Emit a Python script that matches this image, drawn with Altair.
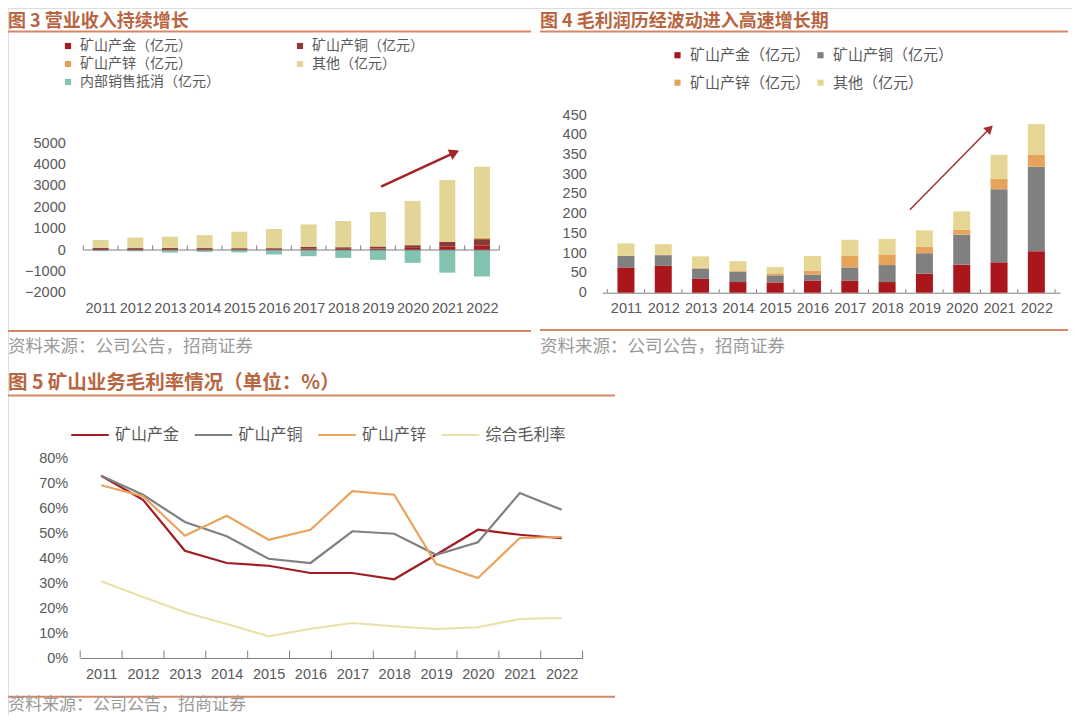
import altair as alt
import pandas as pd

# ---------------- data ----------------
years = list(range(2011, 2023))

# 图3 营业收入 (亿元)
rev_names = ["矿山产金（亿元）", "矿山产铜（亿元）", "矿山产锌（亿元）", "其他（亿元）", "内部销售抵消（亿元）"]
rev_gold = [50, 55, 50, 45, 40, 45, 60, 55, 70, 100, 160, 220]
rev_copper = [45, 45, 45, 45, 45, 40, 85, 75, 90, 125, 215, 290]
rev_zinc = [8, 10, 10, 12, 12, 12, 20, 20, 20, 20, 25, 60]
rev_other = [367, 470, 520, 598, 763, 888, 1035, 1210, 1600, 2055, 2880, 3330]
rev_elim = [-50, -60, -120, -90, -110, -210, -290, -370, -460, -600, -1060, -1240]
rev_colors = ["#A81C20", "#8C3A35", "#E2A25C", "#E2D595", "#84C2B1"]
rev_ticks = [-2000, -1000, 0, 1000, 2000, 3000, 4000, 5000]

# 图4 毛利润 (亿元)
gp_names = ["矿山产金（亿元）", "矿山产铜（亿元）", "矿山产锌（亿元）", "其他（亿元）"]
gp_gold = [64, 68, 35, 27, 26, 31, 31, 27, 48, 71, 77, 105]
gp_copper = [29, 27, 26, 26, 18, 15, 33, 43, 52, 76, 185, 214]
gp_zinc = [1, 1, 2, 2, 5, 10, 30, 27, 16, 12, 27, 31]
gp_other = [31, 27, 29, 25, 16, 37, 40, 39, 42, 47, 60, 77]
gp_colors = ["#AA161B", "#808080", "#E6A45A", "#E6D694"]
gp_ticks = [0, 50, 100, 150, 200, 250, 300, 350, 400, 450]

# 图5 毛利率 (%)
gm_names = ["矿山产金", "矿山产铜", "矿山产锌", "综合毛利率"]
gm_gold = [72.9, 63.3, 42.9, 38.0, 36.9, 34.0, 34.0, 31.5, 41.3, 51.3, 49.3, 47.9]
gm_copper = [72.9, 65.3, 54.4, 48.7, 39.7, 38.0, 50.7, 49.7, 41.3, 46.3, 66.0, 59.3]
gm_zinc = [69.1, 64.7, 48.9, 56.9, 47.3, 51.3, 66.7, 65.3, 37.7, 32.0, 48.0, 48.4]
gm_total = [30.7, 24.4, 18.3, 13.6, 8.7, 11.7, 14.0, 12.7, 11.6, 12.3, 15.6, 16.0]
gm_colors = ["#A11D22", "#808080", "#E9A35C", "#E9E1A8"]
gm_ticks = [0, 10, 20, 30, 40, 50, 60, 70, 80]

# arrow annotations (data units: year, value)
arrow3_start = (2019.09, 2970)
arrow3_end = (2021.21, 4565)
arrow4_start = (2018.61, 210)
arrow4_end = (2020.75, 416)

titles = ["图 3 营业收入持续增长", "图 4 毛利润历经波动进入高速增长期", "图 5 矿山业务毛利率情况（单位：%）"]
source = "资料来源：公司公告，招商证券"

# ---------------- helpers ----------------
W, H = 1064, 707
CJK = "Noto Sans CJK SC"
LAT = "Liberation Sans"
LBL = "#595959"
AXC = "#7F7F7F"
ACC = "#B9653F"
LINEC = "#D68866"
SRC = "#9A9A9A"

bounds = [y - 0.5 for y in years] + [years[-1] + 0.5]


def long_df(names, series, scale=1.0):
    rows = []
    for k, (n, vals) in enumerate(zip(names, series)):
        for y, v in zip(years, vals):
            rows.append({"year": y, "series": n, "value": v / scale, "ord": k})
    return pd.DataFrame(rows)


def xaxis(offset, domain=False):
    return alt.Axis(orient="bottom", offset=offset, values=years, format="d", ticks=False,
                    tickSize=0, domain=domain, domainColor=AXC, domainWidth=1, grid=False,
                    labelPadding=9, labelFont=LAT, labelFontSize=14.5, labelColor=LBL,
                    labelFlush=False, labelOverlap=False, title=None)


def yaxis(offset, values, fmt="d", pad=13):
    return alt.Axis(orient="left", offset=offset, values=values, format=fmt, ticks=False,
                    tickSize=0, domain=False, grid=False, labelPadding=pad, labelFont=LAT,
                    labelFontSize=14.5, labelColor=LBL, labelFlush=False, labelOverlap=False,
                    title=None)


def text_layer(txt, x, y, size, color, weight="normal", font=CJK):
    return alt.Chart(pd.DataFrame({"t": [txt]})).mark_text(
        align="left", baseline="middle", font=font, fontSize=size, fontWeight=weight, color=color
    ).encode(x=alt.value(x), y=alt.value(y), text="t:N")


def hline(x1, x2, y, color=LINEC, width=2):
    return alt.Chart(pd.DataFrame({"a": [0]})).mark_rule(color=color, strokeWidth=width).encode(
        x=alt.value(x1), x2=alt.value(x2), y=alt.value(y))


def arrow_layer(start, end, xs, ys, xa, ya, color, width, angle, size):
    d = pd.DataFrame({"year": [start[0]], "value": [start[1]], "year2": [end[0]], "value2": [end[1]]})
    line = alt.Chart(d).mark_rule(color=color, strokeWidth=width).encode(
        x=alt.X("year:Q", scale=xs, axis=xa), y=alt.Y("value:Q", scale=ys, axis=ya),
        x2="year2:Q", y2="value2:Q")
    head = alt.Chart(d).mark_point(shape="triangle-up", filled=True, color=color, opacity=1,
                                   size=size, angle=angle).encode(
        x=alt.X("year2:Q", scale=xs, axis=xa), y=alt.Y("value2:Q", scale=ys, axis=ya))
    return [line, head]


def tick_layer(xs, ys, xa, ya, top):
    d = pd.DataFrame({"year": bounds, "value": [0] * len(bounds), "value2": [top] * len(bounds)})
    return alt.Chart(d).mark_rule(color=AXC, strokeWidth=1).encode(
        x=alt.X("year:Q", scale=xs, axis=xa), y=alt.Y("value:Q", scale=ys, axis=ya), y2="value2:Q")


def bar_legend(x, y, colpad, rowpad, fs=15):
    return alt.Legend(orient="none", legendX=x, legendY=y, columns=2, direction="horizontal",
                      columnPadding=colpad, rowPadding=rowpad, symbolType="square",
                      symbolSize=38, labelFont=CJK, labelFontSize=fs, labelColor=LBL,
                      labelOffset=5, padding=0, title=None, labelLimit=400)


# ---------------- 图3 ----------------
X3 = alt.Scale(domain=[2010.5, 2022.5], range=[70.3, 496.3], nice=False, zero=False)
Y3 = alt.Scale(domain=[-2000, 5000], range=[284.7, 135.3], nice=False)
AX3 = xaxis(284.7 - H)
AY3 = yaxis(-70.3, rev_ticks, pad=13)
df3 = long_df(rev_names, [rev_gold, rev_copper, rev_zinc, rev_other, rev_elim])
bars3 = alt.Chart(df3).mark_bar(size=16, orient="vertical").encode(
    x=alt.X("year:Q", scale=X3, axis=AX3),
    y=alt.Y("value:Q", stack="zero", scale=Y3, axis=AY3),
    color=alt.Color("series:N", scale=alt.Scale(domain=rev_names, range=rev_colors),
                    legend=bar_legend(53, 31, 73, 4, fs=14)),
    order=alt.Order("ord:Q", sort="ascending"),
)
base3 = alt.Chart(pd.DataFrame({"year": [2010.5], "year2": [2022.5], "value": [0]})).mark_rule(
    color=AXC, strokeWidth=1).encode(
    x=alt.X("year:Q", scale=X3, axis=AX3), x2="year2:Q", y=alt.Y("value:Q", scale=Y3, axis=AY3))
c3 = alt.layer(bars3, base3, tick_layer(X3, Y3, AX3, AY3, 220),
               *arrow_layer(arrow3_start, arrow3_end, X3, Y3, AX3, AY3, "#A52426", 2.6, 65.6, 130))

# ---------------- 图4 ----------------
X4 = alt.Scale(domain=[2010.5, 2022.5], range=[594.3, 1052], nice=False, zero=False)
Y4 = alt.Scale(domain=[0, 450], range=[284.7, 107], nice=False)
AX4 = xaxis(284.7 - H, domain=True)
AY4 = yaxis(-594.3, gp_ticks, pad=16)
df4 = long_df(gp_names, [gp_gold, gp_copper, gp_zinc, gp_other])
bars4 = alt.Chart(df4).mark_bar(size=17, orient="vertical").encode(
    x=alt.X("year:Q", scale=X4, axis=AX4),
    y=alt.Y("value:Q", stack="zero", scale=Y4, axis=AY4),
    color=alt.Color("series:N", scale=alt.Scale(domain=gp_names, range=gp_colors),
                    legend=bar_legend(662, 39.5, 2, 11.7)),
    order=alt.Order("ord:Q", sort="ascending"),
)
c4 = alt.layer(bars4, tick_layer(X4, Y4, AX4, AY4, 9),
               *arrow_layer(arrow4_start, arrow4_end, X4, Y4, AX4, AY4, "#A3322F", 1.5, 45.3, 100))

# ---------------- 图5 ----------------
X5 = alt.Scale(domain=[2010.5, 2022.5], range=[72.2, 574.6], nice=False, zero=False)
Y5 = alt.Scale(domain=[0, 0.8], range=[650, 450], nice=False)
AX5 = xaxis(650 - H, domain=True)
AY5 = yaxis(-72.2, [v / 100 for v in gm_ticks], fmt=".0%", pad=12.5)
df5 = long_df(gm_names, [gm_gold, gm_copper, gm_zinc, gm_total], scale=100.0)
lines5 = alt.Chart(df5).mark_line(strokeWidth=2.2).encode(
    x=alt.X("year:Q", scale=X5, axis=AX5),
    y=alt.Y("value:Q", scale=Y5, axis=AY5),
    color=alt.Color("series:N", scale=alt.Scale(domain=gm_names, range=gm_colors),
                    legend=alt.Legend(orient="none", legendX=62, legendY=407, columns=4,
                                      direction="horizontal", columnPadding=9.5,
                                      symbolType="stroke", symbolSize=1406, symbolStrokeWidth=2.2,
                                      labelFont=CJK, labelFontSize=16, labelColor=LBL,
                                      labelOffset=5, padding=0, title=None, labelLimit=400)),
    order=alt.Order("ord:Q"),
)
c5 = alt.layer(lines5, tick_layer(X5, Y5, AX5, AY5, 0.03))

# ---------------- decorations ----------------
deco = [
    text_layer(titles[0], 0, 13.5, 18, ACC, "bold"),
    text_layer(titles[1], 532, 13.5, 18, ACC, "bold"),
    text_layer(titles[2], 0, 375, 19.5, ACC, "bold"),
    hline(0, 523, 23.5), hline(532, 1060, 23.5), hline(0, 607, 387.5),
    hline(0, 523, 323), hline(532, 1060, 322), hline(0, 607, 688.7),
    text_layer(source, 0, 338.7, 17.5, SRC),
    text_layer(source, 532, 338.5, 17.5, SRC),
    text_layer(source, 0, 696.5, 17, SRC),
]

chart = alt.layer(c3, c4, c5, *deco).resolve_scale(
    x="independent", y="independent", color="independent"
).resolve_axis(x="independent", y="independent").resolve_legend(color="independent").properties(
    width=W, height=H, autosize="none", padding=0
).configure_view(stroke=None).configure(background="white")

chart.save("out.html", embed_options={"renderer": "svg", "actions": False})
